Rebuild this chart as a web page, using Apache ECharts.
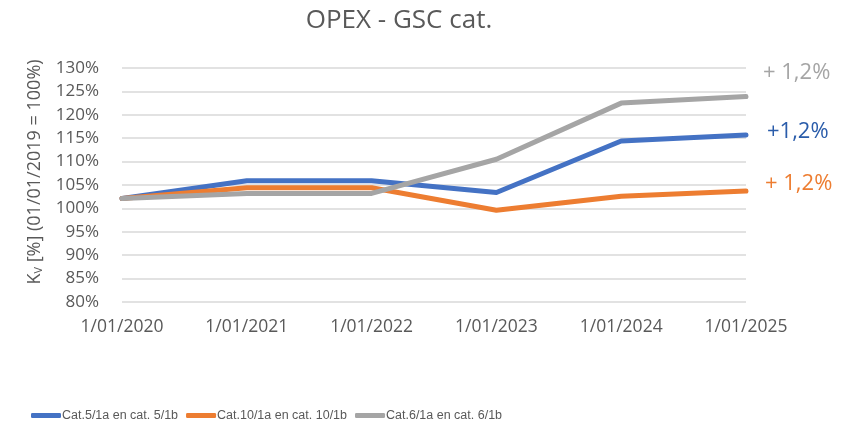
<!DOCTYPE html>
<html>
<head>
<meta charset="utf-8">
<script src="https://cdn.jsdelivr.net/npm/echarts@6/dist/echarts.min.js"></script>
<style>
  html, body { margin: 0; padding: 0; background: #fff; }
  #chart { width: 849px; height: 425px; }
</style>
</head>
<body>
<div id="chart"></div>
<script>
// data
const categories = ['1/01/2020', '1/01/2021', '1/01/2022', '1/01/2023', '1/01/2024', '1/01/2025']
const cat5 = [102.1, 105.9, 105.9, 103.4, 114.4, 115.7]
const cat10 = [102.1, 104.4, 104.4, 99.6, 102.6, 103.7]
const cat6 = [102.1, 103.2, 103.2, 110.5, 122.5, 123.9]
const seriesNames = ['Cat.5/1a en cat. 5/1b', 'Cat.10/1a en cat. 10/1b', 'Cat.6/1a en cat. 6/1b']
const growthLabels = ['+1,2%', '+ 1,2%', '+ 1,2%'] // blue, orange, gray

const colors = ['#4472C4', '#ED7D31', '#A5A5A5']
const fontMain = '"Open Sans", "Noto Sans", sans-serif'

let myChart = echarts.init(document.getElementById('chart'))

function lineSeries (name, data, color) {
  return {
    name: name,
    type: 'line',
    data: data,
    symbol: 'none',
    color: color,
    lineStyle: { width: 5, color: color, cap: 'round', join: 'round' },
    emphasis: { disabled: true }
  }
}

myChart.setOption({
  animation: false,
  title: {
    text: 'OPEX - GSC cat.',
    left: 394,
    top: 3,
    textAlign: 'center',
    textStyle: { fontFamily: fontMain, fontSize: 26, fontWeight: 'normal', color: '#595959' }
  },
  grid: {
    left: 122,
    right: 103,
    top: 68,
    bottom: 123,
    containLabel: false
  },
  legend: {
    left: 26,
    top: 404,
    icon: 'roundRect',
    itemWidth: 30,
    itemHeight: 5,
    itemGap: 8,
    textStyle: {
      fontFamily: '"Liberation Sans", Arial, sans-serif',
      fontSize: 12.5,
      color: '#595959',
      padding: [0, 0, 0, -4]
    },
    data: seriesNames
  },
  xAxis: {
    type: 'category',
    data: categories,
    boundaryGap: false,
    axisLine: { show: false },
    axisTick: { show: false },
    axisLabel: { color: '#595959', fontFamily: fontMain, fontSize: 17.5, margin: 16 }
  },
  yAxis: {
    type: 'value',
    min: 80,
    max: 130,
    interval: 5,
    axisLine: { show: false },
    axisTick: { show: false },
    splitLine: { lineStyle: { color: '#D9D9D9', width: 1.5 } },
    axisLabel: {
      formatter: '{value}%',
      color: '#595959',
      fontFamily: fontMain,
      fontSize: 17,
      margin: 23
    },
    name: '{k|K}{sub|V}{k| [%] (01/01/2019 = 100%)}',
    nameLocation: 'middle',
    nameGap: 78,
    nameTextStyle: {
      padding: [0, 0, 0, 26],
      rich: {
        k: { fontFamily: fontMain, fontSize: 18, color: '#595959' },
        sub: { fontFamily: fontMain, fontSize: 11, color: '#595959', verticalAlign: 'bottom', padding: [8, 0, 0, 0] }
      }
    }
  },
  graphic: [
    {
      type: 'text', left: 763, top: 62,
      style: { text: growthLabels[2], fill: colors[2], font: '22px "Open Sans", sans-serif' }
    },
    {
      type: 'text', left: 767, top: 121,
      style: { text: growthLabels[0], fill: '#2A5CAA', font: '22px "Open Sans", sans-serif' }
    },
    {
      type: 'text', left: 765, top: 173,
      style: { text: growthLabels[1], fill: colors[1], font: '22px "Open Sans", sans-serif' }
    }
  ],
  series: [
    lineSeries(seriesNames[0], cat5, colors[0]),
    lineSeries(seriesNames[1], cat10, colors[1]),
    lineSeries(seriesNames[2], cat6, colors[2])
  ]
})
myChart.resize()
</script>
</body>
</html>
